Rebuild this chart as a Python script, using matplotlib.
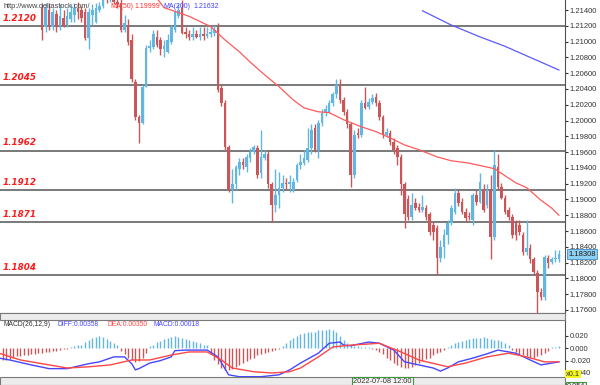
import numpy as np
import matplotlib
matplotlib.use("Agg")
import matplotlib.pyplot as plt
from matplotlib.patches import Rectangle
from matplotlib.ticker import FormatStrFormatter

# EUR/USD candles (open, high, low, close)
opens = [1.2143, 1.2118, 1.2140, 1.2118, 1.2135, 1.2120, 1.2130, 1.2121, 1.2128, 1.2134,
         1.2143, 1.2140, 1.2138, 1.2105, 1.2134, 1.2125, 1.2140, 1.2145, 1.2158, 1.2153,
         1.2161, 1.2150, 1.2149, 1.2115, 1.2121, 1.2102, 1.2049, 1.2005, 1.1997, 1.2043,
         1.2092, 1.2093, 1.2106, 1.2102, 1.2090, 1.2087, 1.2100, 1.2115, 1.2133, 1.2143,
         1.2112, 1.2109, 1.2106, 1.2109, 1.2106, 1.2109, 1.2107, 1.2109, 1.2111, 1.2119,
         1.2041, 1.2022, 1.1967, 1.1912, 1.1919, 1.1938, 1.1948, 1.1941, 1.1953, 1.1960,
         1.1965, 1.1934, 1.1953, 1.1957, 1.1919, 1.1893, 1.1906, 1.1915, 1.1921, 1.1919,
         1.1912, 1.1925, 1.1944, 1.1946, 1.1950, 1.1965, 1.1991, 1.1963, 1.1997, 1.2010,
         1.2011, 1.2022, 1.2033, 1.2045, 1.2026, 1.2011, 1.1995, 1.1931, 1.1984, 1.1982,
         1.2022, 1.2017, 1.2024, 1.2030, 1.2022, 1.2005, 1.1982, 1.1984, 1.1973, 1.1965,
         1.1954, 1.1919, 1.1900, 1.1878, 1.1896, 1.1891, 1.1887, 1.1889, 1.1881, 1.1868,
         1.1864, 1.1826, 1.1840, 1.1855, 1.1870, 1.1884, 1.1908, 1.1897, 1.1884, 1.1879,
         1.1874, 1.1906, 1.1897, 1.1912, 1.1893, 1.1912, 1.1853, 1.1941, 1.1916, 1.1902,
         1.1887, 1.1878, 1.1870, 1.1868, 1.1855, 1.1834, 1.1839, 1.1824, 1.1807, 1.1783,
         1.1777, 1.1826, 1.1821, 1.1824, 1.1824]
highs = [1.2147, 1.2149, 1.2147, 1.2143, 1.2140, 1.2147, 1.2140, 1.2143, 1.2147, 1.2149,
         1.2150, 1.2145, 1.2143, 1.2143, 1.2147, 1.2149, 1.2150, 1.2166, 1.2168, 1.2171,
         1.2166, 1.2157, 1.2156, 1.2134, 1.2128, 1.2109, 1.2052, 1.2007, 1.2045, 1.2096,
         1.2102, 1.2115, 1.2115, 1.2106, 1.2102, 1.2109, 1.2121, 1.2140, 1.2147, 1.2153,
         1.2118, 1.2115, 1.2118, 1.2115, 1.2118, 1.2119, 1.2118, 1.2119, 1.2121, 1.2123,
         1.2045, 1.2026, 1.1969, 1.1938, 1.1944, 1.1953, 1.1953, 1.1957, 1.1965, 1.1969,
         1.1969, 1.1988, 1.1963, 1.1963, 1.1922, 1.1938, 1.1935, 1.1931, 1.1927, 1.1931,
         1.1927, 1.1946, 1.1957, 1.1963, 1.1991, 1.1995, 1.1995, 1.2001, 1.2014, 1.2020,
         1.2026, 1.2036, 1.2052, 1.2052, 1.2030, 1.2014, 1.1998, 1.1988, 1.1991, 1.2026,
         1.2043, 1.2029, 1.2033, 1.2035, 1.2026, 1.2007, 1.1991, 1.1988, 1.1978, 1.1969,
         1.1957, 1.1922, 1.1906, 1.1908, 1.1902, 1.1896, 1.1906, 1.1893, 1.1884, 1.1872,
         1.1868, 1.1849, 1.1862, 1.1874, 1.1893, 1.1915, 1.1912, 1.1902, 1.1889, 1.1884,
         1.1908, 1.1912, 1.1934, 1.1919, 1.1919, 1.1931, 1.1963, 1.1957, 1.1921, 1.1906,
         1.1891, 1.1881, 1.1874, 1.1874, 1.1859, 1.1874, 1.1843, 1.1827, 1.1811, 1.1788,
         1.1830, 1.1830, 1.1827, 1.1836, 1.1836]
lows = [1.2102, 1.2112, 1.2115, 1.2115, 1.2112, 1.2115, 1.2118, 1.2118, 1.2125, 1.2125,
        1.2128, 1.2125, 1.2102, 1.2090, 1.2121, 1.2123, 1.2138, 1.2143, 1.2149, 1.2150,
        1.2147, 1.2143, 1.2112, 1.2112, 1.2096, 1.2049, 1.2001, 1.1972, 1.1995, 1.2042,
        1.2087, 1.2090, 1.2093, 1.2083, 1.2081, 1.2085, 1.2097, 1.2112, 1.2130, 1.2109,
        1.2105, 1.2102, 1.2102, 1.2104, 1.2102, 1.2102, 1.2105, 1.2106, 1.2107, 1.2036,
        1.2019, 1.1963, 1.1910, 1.1896, 1.1912, 1.1931, 1.1938, 1.1935, 1.1948, 1.1957,
        1.1927, 1.1927, 1.1950, 1.1915, 1.1872, 1.1884, 1.1889, 1.1910, 1.1912, 1.1910,
        1.1910, 1.1922, 1.1938, 1.1944, 1.1948, 1.1957, 1.1960, 1.1953, 1.1993, 1.2006,
        1.2009, 1.2019, 1.2029, 1.2022, 1.2007, 1.1991, 1.1916, 1.1927, 1.1978, 1.1979,
        1.2014, 1.2014, 1.2021, 1.2019, 1.2001, 1.1978, 1.1979, 1.1969, 1.1957, 1.1944,
        1.1906, 1.1864, 1.1874, 1.1874, 1.1887, 1.1884, 1.1884, 1.1874, 1.1855, 1.1849,
        1.1805, 1.1821, 1.1826, 1.1843, 1.1867, 1.1882, 1.1892, 1.1882, 1.1872, 1.1874,
        1.1868, 1.1893, 1.1895, 1.1884, 1.1889, 1.1824, 1.1849, 1.1912, 1.1900, 1.1881,
        1.1874, 1.1851, 1.1849, 1.1855, 1.1830, 1.1830, 1.1820, 1.1805, 1.1756, 1.1773,
        1.1773, 1.1813, 1.1818, 1.1821, 1.1821]
closes = [1.2115, 1.2143, 1.2118, 1.2138, 1.2119, 1.2133, 1.2120, 1.2133, 1.2138, 1.2143,
          1.2138, 1.2130, 1.2105, 1.2138, 1.2140, 1.2143, 1.2145, 1.2158, 1.2153, 1.2161,
          1.2150, 1.2147, 1.2115, 1.2124, 1.2099, 1.2052, 1.2005, 1.1997, 1.2043, 1.2092,
          1.2095, 1.2109, 1.2096, 1.2090, 1.2095, 1.2102, 1.2119, 1.2137, 1.2140, 1.2111,
          1.2109, 1.2106, 1.2109, 1.2106, 1.2109, 1.2107, 1.2110, 1.2112, 1.2115, 1.2039,
          1.2022, 1.1967, 1.1912, 1.1919, 1.1941, 1.1948, 1.1944, 1.1954, 1.1960, 1.1967,
          1.1931, 1.1954, 1.1957, 1.1919, 1.1893, 1.1906, 1.1915, 1.1921, 1.1919, 1.1922,
          1.1922, 1.1944, 1.1948, 1.1953, 1.1965, 1.1988, 1.1963, 1.1997, 1.2010, 1.2014,
          1.2022, 1.2033, 1.2045, 1.2026, 1.2011, 1.1995, 1.1931, 1.1982, 1.1982, 1.2022,
          1.2016, 1.2024, 1.2028, 1.2022, 1.2005, 1.1982, 1.1986, 1.1973, 1.1963, 1.1954,
          1.1919, 1.1881, 1.1878, 1.1893, 1.1889, 1.1887, 1.1891, 1.1878, 1.1859, 1.1859,
          1.1826, 1.1840, 1.1855, 1.1870, 1.1889, 1.1908, 1.1896, 1.1884, 1.1877, 1.1878,
          1.1906, 1.1897, 1.1922, 1.1887, 1.1912, 1.1853, 1.1944, 1.1916, 1.1902, 1.1884,
          1.1878, 1.1855, 1.1855, 1.1859, 1.1834, 1.1839, 1.1824, 1.1808, 1.1783, 1.1777,
          1.1827, 1.1820, 1.1824, 1.1826, 1.1831]

# moving averages (candle index, value)
ma50_idx = [32, 34, 41, 47, 51, 55, 58, 62, 66, 70, 73, 77, 80, 84, 89, 93, 97, 101, 105,
            110, 114, 119, 123, 126, 129, 132, 135, 139, 142, 144]
ma50_val = [1.2155, 1.2143, 1.2132, 1.2119, 1.2102, 1.2087, 1.2074, 1.2058, 1.2043, 1.2026,
            1.2016, 1.2011, 1.2010, 1.2001, 1.1992, 1.1986, 1.1978, 1.1969, 1.1963, 1.1954,
            1.1949, 1.1946, 1.1942, 1.1939, 1.1930, 1.1921, 1.1915, 1.1899, 1.1889, 1.1880]
ma200_idx = [106, 114, 122, 129, 136, 144]
ma200_val = [1.2139, 1.2121, 1.2106, 1.2094, 1.2080, 1.2064]

levels = [1.2120, 1.2045, 1.1962, 1.1912, 1.1871, 1.1804]
last_price = "1.18308"

# MACD panel, one histogram bar per candle starting 11 candles before the first drawn one
hist_start = -11
macd_hist = [-.019, -.019, -.018, -.016, -.013,
             -.013, -.011, -.011, -.010, -.010, -.008, -.008, -.006, -.006, -.005, -.005, -.003, -.002, -.002,
             .002, .003, .005, .006, .010, .013, .016, .018, .019, .018, .015, .011, .008, .005,
             -.005, -.010, -.015, -.019, -.023, -.021, -.015, -.008,
             .003, .006, .010, .011, .015, .016, .018, .019, .018, .016, .015, .013, .011, .010, .008, .006, .005,
             -.010, -.019, -.026, -.032, -.035, -.035, -.034, -.031, -.027, -.024, -.021, -.018, -.015, -.011,
             -.010, -.008, -.006, -.005, -.003, -.002,
             .003, .008, .013, .016, .019, .023, .024, .026, .027, .027, .029, .029, .029, .031, .029, .026,
             .019, .013, .008,
             .005, .003, .003, .002, .002, .002,
             -.002, -.003, -.006, -.010, -.015, -.019, -.024, -.027, -.031, -.032, -.032, -.031, -.027, -.024,
             -.021, -.018, -.015, -.011, -.008, -.006, -.003,
             .002, .005, .008, .010, .011, .013, .015, .016, .016, .016, .018, .016, .015, .013, .013, .011,
             .008, .005,
             -.003, -.006, -.010, -.011, -.013, -.015, -.015, -.013, -.011, -.008, -.005,
             .002, .002, .003]
diff_idx = [-12, -9, -3, 2, 7, 10, 13, 16, 20, 23, 25, 26, 27, 30, 33, 36, 37, 40, 46, 49, 52, 55,
            61, 66, 69, 72, 77, 80, 83, 84, 86, 91, 94, 98, 101, 105, 109, 111, 113, 116, 120, 124,
            127, 130, 132, 136, 139, 142, 144]
diff_val = [-0.016, -0.019, -0.027, -0.033, -0.033, -0.029, -0.025, -0.022, -0.014, -0.014, -0.025,
            -0.035, -0.033, -0.024, -0.020, -0.014, -0.004, -0.003, -0.003, -0.014, -0.043, -0.046,
            -0.046, -0.043, -0.035, -0.024, -0.008, 0.008, 0.010, 0.005, 0.004, 0.010, 0.008, -0.003,
            -0.022, -0.027, -0.032, -0.037, -0.032, -0.022, -0.016, -0.009, -0.003, -0.006, -0.008,
            -0.019, -0.027, -0.024, -0.022]
dea_idx = [-12, -6, 2, 7, 13, 19, 25, 30, 36, 41, 46, 50, 53, 59, 64, 69, 72, 77, 81, 86, 94,
           100, 105, 113, 118, 124, 130, 135, 140, 144]
dea_val = [-0.008, -0.019, -0.027, -0.032, -0.030, -0.027, -0.019, -0.019, -0.011, -0.006, -0.006,
           -0.019, -0.032, -0.038, -0.040, -0.038, -0.032, -0.014, 0.002, 0.005, 0.008, -0.006,
           -0.019, -0.030, -0.024, -0.014, -0.008, -0.014, -0.022, -0.022]

RED = "#c9575a"
BLUE = "#62b6e2"
SMALL = "Liberation Sans"
W, H = 600, 385

fig = plt.figure(figsize=(6, 3.85), dpi=100)
ax = fig.add_axes([0, 1 - 313 / H, 565 / W, 313 / H])
ax2 = fig.add_axes([0, 1 - 377 / H, 565 / W, 57 / H])

x = np.arange(len(closes))
o = np.array(opens); c = np.array(closes)
cols = [BLUE if cc >= oo else RED for oo, cc in zip(o, c)]
ax.vlines(x, lows, highs, colors=cols, lw=1, zorder=3)
body = np.maximum(np.abs(c - o), 0.00012)
ax.bar(x, body, bottom=np.minimum(o, c), width=0.72, color=cols, lw=0, zorder=4)

ax.plot(ma50_idx, ma50_val, color="#ff5a5a", lw=0.9, zorder=5)
ax.plot(ma200_idx, ma200_val, color="#5a5aff", lw=0.9, zorder=5)

for lv in levels:
    ax.axhline(lv, color="#6e6e6e", lw=1.3, zorder=2)
    ax.annotate(f"{lv:.4f}", xy=(0, lv), xycoords=("axes fraction", "data"),
                xytext=(2, 2.2), textcoords="offset points", va="bottom", ha="left",
                color="#ff1a1a", fontsize=6.3, fontweight="bold", fontstyle="italic")

xl = (-11.7, 145.7)
ax.set_xlim(*xl)
ax.set_ylim(1.17561, 1.21527)
ax.set_xticks([])
ax.yaxis.tick_right()
ax.set_yticks(np.arange(1.176, 1.2141, 0.002))
ax.yaxis.set_major_formatter(FormatStrFormatter("%.5f"))
ax.tick_params(axis="y", labelsize=5.5, colors="#333333", length=2.5, pad=1)
for lab in ax.get_yticklabels():
    lab.set_family(SMALL)
for s in ["left", "top"]:
    ax.spines[s].set_visible(False)
ax.spines["right"].set_color("#505050")
ax.spines["bottom"].set_color("#505050")

ax.annotate(last_price, xy=(1, float(last_price)), xycoords=("axes fraction", "data"),
            xytext=(2.5, 0), textcoords="offset points", va="center", ha="left",
            fontsize=5.5, family=SMALL, color="#1a1a1a",
            bbox=dict(boxstyle="square,pad=0.15", fc="#8ed0f2", ec="#3c8cc8", lw=0.6))

# header texts
ty = 1 - 6 / H
fs = 5.0
fig.text(3 / W, ty, "http://www.deltastock.com/", fontsize=5.3, family=SMALL, color="#404040", va="center")
fig.text(110 / W, ty, "MA(50)", fontsize=fs, family=SMALL, color="#ff3030", va="center")
fig.text(134 / W, ty, "1.19999", fontsize=fs, family=SMALL, color="#ff3030", va="center")
fig.text(163 / W, ty, "MA(200)", fontsize=fs, family=SMALL, color="#4040ff", va="center")
fig.text(193 / W, ty, "1.21632", fontsize=fs, family=SMALL, color="#4040ff", va="center")

# MACD panel
hx = np.arange(hist_start, hist_start + len(macd_hist))
hv = np.array(macd_hist)
ax2.vlines(hx, 0, hv, colors=[BLUE if v > 0 else RED for v in hv], lw=1, zorder=2)
ax2.plot(diff_idx, diff_val, color="#4646ff", lw=1, zorder=3)
ax2.plot(dea_idx, dea_val, color="#ff4646", lw=1, zorder=3)
ax2.set_xlim(*xl)
ax2.set_ylim(-0.0465, 0.0456)
ax2.set_xticks([])
ax2.yaxis.tick_right()
ax2.set_yticks([0.02, 0.0, -0.02, -0.04])
ax2.yaxis.set_major_formatter(FormatStrFormatter("%.3f"))
ax2.tick_params(axis="y", labelsize=5.5, colors="#333333", length=2.5, pad=1)
for lab in ax2.get_yticklabels():
    lab.set_family(SMALL)
for s in ["left", "top", "bottom"]:
    ax2.spines[s].set_visible(False)
ax2.spines["right"].set_color("#505050")

my = 1 - 325 / H
fm = 4.9
fig.text(3 / W, my, "MACD(26,12,9)", fontsize=fm, family=SMALL, color="#333333", va="center")
fig.text(58 / W, my, "DIFF:0.00358", fontsize=fm, family=SMALL, color="#4646ff", va="center")
fig.text(107 / W, my, "DEA:0.00350", fontsize=fm, family=SMALL, color="#ff4646", va="center")
fig.text(153 / W, my, "MACD:0.00018", fontsize=fm, family=SMALL, color="#4646ff", va="center")

# separator bands
fig.patches.append(Rectangle((0, 1 - 320 / H), 565 / W, 7 / H, transform=fig.transFigure,
                             fc="#ececec", ec="#7a7a7a", lw=0.8, zorder=0))
fig.patches.append(Rectangle((0, 0), 565 / W, 8 / H, transform=fig.transFigure,
                             fc="#ececec", ec="#7a7a7a", lw=0.8, zorder=0))

fig.text(566 / W, 1 - 374 / H, "x0.1", fontsize=5.3, family=SMALL, color="#333333", va="center",
         bbox=dict(boxstyle="square,pad=0.1", fc="#f5f51e", ec="none"))
fig.text(353 / W, 1 - 381.5 / H, "2022-07-08 12:00", fontsize=5.3, family=SMALL, color="#333333",
         va="center", bbox=dict(boxstyle="square,pad=0.15", fc="#f4f4f4", ec="#3c963c", lw=0.8))
fig.text(567 / W, 1 - 387 / H, "0.054", fontsize=5.3, family=SMALL, color="#333333", va="center",
         bbox=dict(boxstyle="square,pad=0.15", fc="#f4f4f4", ec="#3c963c", lw=0.8))

fig.savefig("out.png", dpi=100)
